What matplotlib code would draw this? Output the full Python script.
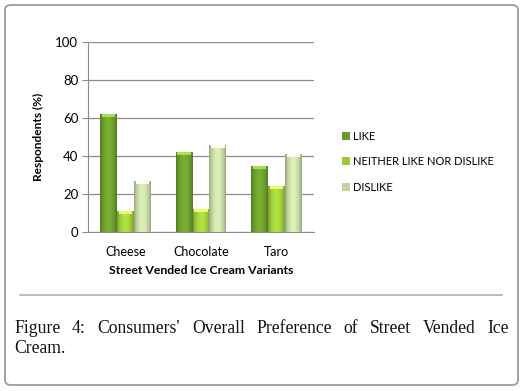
import numpy as np
import matplotlib
matplotlib.use('Agg')
import matplotlib.pyplot as plt
from matplotlib.patches import FancyBboxPatch
from matplotlib.colors import to_rgb

plt.rcParams['font.family'] = ['Lato', 'DejaVu Sans']

categories = ['Cheese', 'Chocolate', 'Taro']
series_names = ['LIKE', 'NEITHER LIKE NOR DISLIKE', 'DISLIKE']
like = [62, 42, 35]
neither = [11, 12, 24]
dislike = [27, 46, 41]
colors = ['#6b9a2c', '#9cc93a', '#c3d4a2']
yticks = [0, 20, 40, 60, 80, 100]
caption = "Figure 4: Consumers' Overall Preference of Street Vended Ice"
caption2 = "Cream."

fig = plt.figure(figsize=(5.26, 3.91), dpi=100)

# outer rounded frame
frame = FancyBboxPatch((5 / 526, 6 / 391), 513 / 526, 380 / 391,
                       boxstyle='round,pad=0,rounding_size=0.012',
                       transform=fig.transFigure, fill=False,
                       edgecolor='#9a9a9a', linewidth=1.3)
fig.patches.append(frame)

ax = fig.add_axes([88 / 526, 1 - 232 / 391, 226 / 526, 190 / 391])
x = np.arange(len(categories))
w = 0.225


def shade(bars, base):
    r, g, b = to_rgb(base)
    t = np.linspace(0, 1, 40)
    # darker edges, lighter middle
    f = 0.78 + 0.35 * np.sin(np.pi * t) ** 0.8
    grad = np.clip(np.stack([np.outer(np.ones(2), r * f),
                             np.outer(np.ones(2), g * f),
                             np.outer(np.ones(2), b * f)], axis=-1), 0, 1)
    for bar in bars:
        x0, h, bw = bar.get_x(), bar.get_height(), bar.get_width()
        im = ax.imshow(grad, extent=[x0, x0 + bw, 0, h], aspect='auto',
                       zorder=3, interpolation='bilinear')
        im.set_clip_path(bar)
        # light cap on top
        ax.fill_between([x0 + bw * 0.1, x0 + bw * 0.9], h - 1.6, h,
                        color=tuple(np.clip(np.array([r, g, b]) * 1.3 + 0.1, 0, 1)),
                        zorder=4, linewidth=0)


for i, (vals, c, name) in enumerate(zip([like, neither, dislike], colors, series_names)):
    bars = ax.bar(x + (i - 1) * w, vals, w, color=c, label=name, zorder=2,
                  edgecolor='none')
    shade(bars, c)

ax.set_xlim(-0.5, 2.5)
ax.set_ylim(0, 100)
ax.set_yticks(yticks)
ax.yaxis.grid(True, color='#8c8c8c', linewidth=0.9)
ax.set_axisbelow(True)
for s in ['top', 'right']:
    ax.spines[s].set_visible(False)
ax.spines['left'].set_color('#8c8c8c')
ax.spines['bottom'].set_color('#8c8c8c')
ax.tick_params(axis='y', length=4, color='#8c8c8c', labelsize=9.5, pad=3)
ax.tick_params(axis='x', length=0, labelsize=9, pad=10)
ax.set_xticks(x)
ax.set_xticklabels(categories)
ax.set_xlabel('Street Vended Ice Cream Variants', fontsize=8.8, fontweight='bold',
              labelpad=5)
ax.set_ylabel('Respondents (%)', fontsize=8.6, fontweight='bold', labelpad=8)

leg = ax.legend(loc='center left', frameon=False, borderpad=0,
                fontsize=8, handlelength=0.7, handleheight=0.7, handletextpad=0.3,
                labelspacing=1.3)
leg.set_bbox_to_anchor((1.1, 0.37), transform=ax.transAxes)

# separator line
fig.add_artist(plt.Line2D([20 / 526, 502 / 526], [1 - 295 / 391, 1 - 295 / 391],
                          color='#b0b0b0', linewidth=1.2))

# justified caption line
fig.canvas.draw()
renderer = fig.canvas.get_renderer()
words = caption.split(' ')
left, right = 14, 509
ytop = 1 - 333 / 391
texts = [fig.text(0, ytop, wd, fontsize=12.7, family='Liberation Serif',
                  va='baseline', color='#111111') for wd in words]
widths = [t.get_window_extent(renderer).width for t in texts]
gap = (right - left - sum(widths)) / (len(words) - 1)
pos = left
for t, wdt in zip(texts, widths):
    t.set_x(pos / 526)
    pos += wdt + gap
fig.text(14 / 526, 1 - 353 / 391, caption2, fontsize=12.7, family='Liberation Serif',
         va='baseline', color='#111111')

fig.savefig('out.png', dpi=100)
